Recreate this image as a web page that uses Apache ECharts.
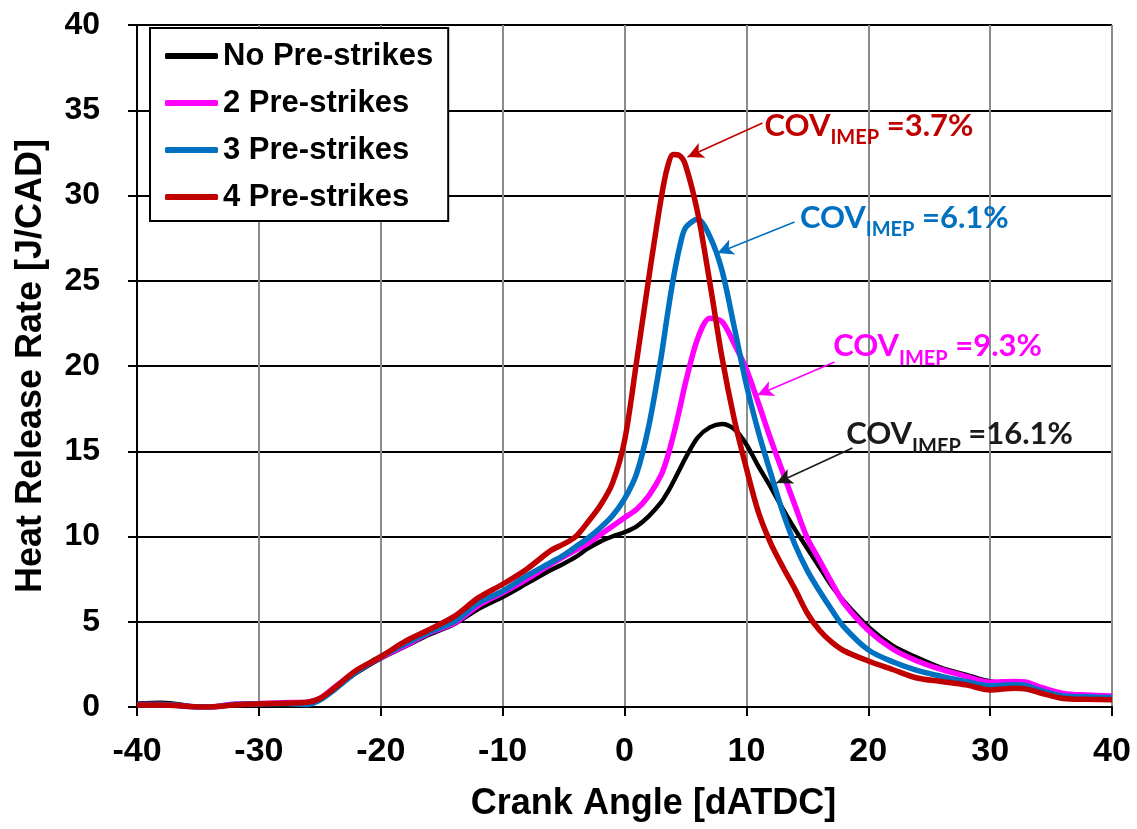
<!DOCTYPE html>
<html>
<head>
<meta charset="utf-8">
<title>Heat Release Rate vs Crank Angle</title>
<script src="https://cdn.jsdelivr.net/npm/echarts@6.0.0/dist/echarts.min.js"></script>
<style>
  html, body { margin: 0; padding: 0; background: #fff; }
  #chart { width: 1137px; height: 829px; }
</style>
</head>
<body>
<div id="chart"></div>
<script>
const crankAngle = [-40, -38, -36, -35, -34, -32, -30, -28, -26, -25,
  -24, -22, -20, -18, -16, -14, -12, -10, -8, -6,
  -5, -4, -3, -2, -1, 0, 1, 2, 3, 3.5, 4, 4.5,
  5, 6, 7, 8, 9, 10, 11, 12, 13, 14,
  15, 16, 17, 18, 20, 22, 24, 26, 28, 30,
  32, 33, 34, 36, 38, 40];

// heat release rate [J/CAD]
const noPreStrikes = [0.2, 0.25, 0.1, -0.05, -0.05, 0.15, 0.2, 0.22, 0.25, 0.45,
  0.95, 2.0, 2.85, 3.55, 4.25, 4.85, 5.75, 6.45, 7.25, 8.05,
  8.4, 8.8, 9.3, 9.7, 10.0, 10.25, 10.6, 11.2, 12.0, 12.55, 13.2, 13.9,
  14.6, 15.8, 16.4, 16.6, 16.3, 15.4, 14.1, 12.9, 11.6, 10.4,
  9.3, 8.2, 7.1, 6.2, 4.7, 3.6, 2.9, 2.3, 1.9, 1.5,
  1.4, 1.3, 1.1, 0.75, 0.65, 0.6];
const twoPreStrikes = [0.15, 0.15, 0.05, 0.0, 0.0, 0.18, 0.2, 0.25, 0.28, 0.5,
  1.05, 2.1, 2.9, 3.6, 4.35, 4.9, 5.95, 6.7, 7.5, 8.4,
  8.8, 9.2, 9.6, 10.1, 10.6, 11.1, 11.6, 12.4, 13.6, 14.6, 15.9, 17.4,
  19.0, 21.6, 22.8, 22.6, 21.3, 19.8, 17.8, 15.7, 13.75, 11.8,
  9.9, 8.6, 7.3, 6.1, 4.5, 3.4, 2.7, 2.2, 1.8, 1.45,
  1.5, 1.45, 1.2, 0.8, 0.7, 0.65];
const threePreStrikes = [0.15, 0.15, 0.05, 0.0, 0.0, 0.15, 0.18, 0.2, 0.15, 0.4,
  0.9, 2.05, 2.95, 3.7, 4.4, 5.0, 6.1, 6.8, 7.7, 8.5,
  8.9, 9.4, 9.9, 10.5, 11.2, 12.2, 13.7, 16.5, 20.5, 22.9, 25.1, 26.9,
  28.1, 28.6, 27.6, 25.6, 22.3, 18.9, 16.1, 13.7, 11.4, 9.5,
  8.0, 6.8, 5.7, 4.7, 3.35, 2.65, 2.15, 1.8, 1.5, 1.25,
  1.3, 1.25, 1.0, 0.65, 0.6, 0.55];
const fourPreStrikes = [0.12, 0.12, 0.05, 0.0, 0.0, 0.12, 0.18, 0.22, 0.28, 0.5,
  1.0, 2.15, 2.95, 3.85, 4.55, 5.3, 6.4, 7.2, 8.1, 9.2,
  9.55, 10.0, 10.85, 11.8, 13.1, 15.6, 20.3, 25.2, 29.8, 31.6, 32.4, 32.35,
  31.8, 29.0, 24.9, 20.5, 16.9, 14.0, 11.4, 9.6, 8.2, 6.9,
  5.5, 4.5, 3.8, 3.3, 2.7, 2.2, 1.7, 1.5, 1.3, 1.0,
  1.1, 1.05, 0.85, 0.5, 0.45, 0.42];

const seriesNames = ['No Pre-strikes', '2 Pre-strikes', '3 Pre-strikes', '4 Pre-strikes'];
const seriesColors = ['#000000', '#FF00FF', '#0070C0', '#C00000'];
const seriesValues = [noPreStrikes, twoPreStrikes, threePreStrikes, fourPreStrikes];

// COV of IMEP callouts: text, text anchor, arrow start, arrow tip (data units)
const covTexts = ['=16.1%', '=9.3%', '=6.1%', '=3.7%'];
const covTextAt = [[18.15, 16.0], [17.08, 21.17], [14.35, 28.7], [11.45, 34.08]];
const arrowFrom = [[18.7, 15.19], [17.23, 20.23], [13.95, 28.45], [11.32, 34.25]];
const arrowTo = [[12.47, 13.14], [10.91, 18.3], [7.63, 26.63], [5.17, 32.26]];

const xTicks = { min: -40, max: 40, step: 10 };
const yTicks = { min: 0, max: 40, step: 5 };

const ARIAL = '"Liberation Sans", Arial, sans-serif';
const CALLOUT = 'Lato, "Open Sans", sans-serif';

let chart = echarts.init(document.getElementById('chart'));

let series = seriesNames.map(function (name, i) {
    let color = seriesColors[i];
    let textColor = i === 0 ? '#1a1a1a' : color;
    return {
        name: name,
        type: 'line',
        smooth: 0.3,
        symbol: 'none',
        z: 2 + i,
        lineStyle: { color: color, width: i === 0 ? 4.5 : 5.5 },
        itemStyle: { color: color },
        data: crankAngle.map(function (x, k) { return [x, seriesValues[i][k]]; }),
        // arrow pointing from the callout to the curve
        markLine: {
            silent: true,
            symbol: ['none', 'arrow'],
            symbolSize: [12, 16],
            label: { show: false },
            lineStyle: { color: textColor, width: 1.6, type: 'solid' },
            emphasis: { disabled: true },
            data: [[{ coord: arrowFrom[i] }, { coord: arrowTo[i] }]]
        },
        // COV_IMEP callout text
        markPoint: {
            silent: true,
            symbol: 'circle',
            symbolSize: 1,
            itemStyle: { color: 'rgba(0,0,0,0)' },
            label: {
                show: true,
                position: 'right',
                distance: 0,
                formatter: '{a|COV}{b|IMEP}{a| ' + covTexts[i] + '}',
                rich: {
                    a: { fontFamily: CALLOUT, fontWeight: 'bold', fontSize: 31, lineHeight: 44, color: textColor },
                    b: { fontFamily: CALLOUT, fontWeight: 'bold', fontSize: 20, verticalAlign: 'bottom', color: textColor }
                }
            },
            data: [{ coord: covTextAt[i] }]
        }
    };
});

let option = {
    animation: false,
    backgroundColor: '#ffffff',
    grid: { left: 137, right: 25, top: 25, bottom: 122, containLabel: false },
    legend: {
        orient: 'vertical',
        left: 150,
        top: 28,
        padding: [11, 15, 7, 15],
        itemWidth: 53,
        itemHeight: 6,
        itemGap: 13,
        icon: 'roundRect',
        borderColor: '#000',
        borderWidth: 2,
        backgroundColor: '#fff',
        selectedMode: false,
        textStyle: { fontFamily: ARIAL, fontWeight: 'bold', fontSize: 31, lineHeight: 34, color: '#000' },
        data: seriesNames
    },
    xAxis: {
        type: 'value',
        min: xTicks.min,
        max: xTicks.max,
        interval: xTicks.step,
        name: 'Crank Angle [dATDC]',
        nameLocation: 'middle',
        nameGap: 79,
        nameTextStyle: { fontFamily: ARIAL, fontWeight: 'bold', fontSize: 36, color: '#000', padding: [0, 0, 0, 58] },
        axisLine: { show: true, onZero: false, lineStyle: { color: '#000', width: 2 } },
        axisTick: { show: true, inside: false, length: 9, lineStyle: { color: '#000', width: 2 } },
        axisLabel: { fontFamily: ARIAL, fontWeight: 'bold', fontSize: 34, color: '#000', margin: 28 },
        splitLine: { show: true, lineStyle: { color: '#8c8c8c', width: 2 } }
    },
    yAxis: {
        type: 'value',
        min: yTicks.min,
        max: yTicks.max,
        interval: yTicks.step,
        name: 'Heat Release Rate [J/CAD]',
        nameLocation: 'middle',
        nameGap: 88,
        nameTextStyle: { fontFamily: ARIAL, fontWeight: 'bold', fontSize: 36, color: '#000' },
        axisLine: { show: true, onZero: false, lineStyle: { color: '#000', width: 2 } },
        axisTick: { show: true, inside: false, length: 9, lineStyle: { color: '#000', width: 2 } },
        axisLabel: { fontFamily: ARIAL, fontWeight: 'bold', fontSize: 32, color: '#000', margin: 37 },
        splitLine: { show: true, lineStyle: { color: '#000', width: 2 } }
    },
    series: series
};

chart.setOption(option);
</script>
</body>
</html>
